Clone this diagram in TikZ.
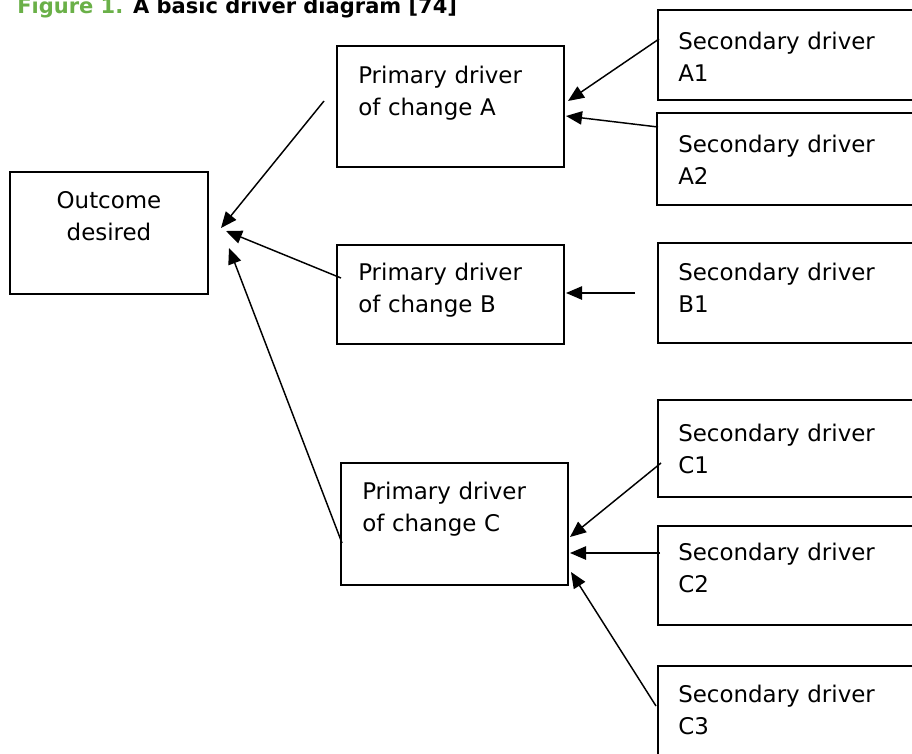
\documentclass[tikz,border=0pt]{standalone}
\usepackage{fontspec}
\setmainfont{DejaVu Sans}
\usetikzlibrary{arrows.meta}
\definecolor{figgreen}{RGB}{106,176,72}
\begin{document}
\begin{tikzpicture}[x=0.75pt,y=-0.75pt,
  box/.style={draw=black, line width=1.5pt, inner sep=0pt, outer sep=0pt, anchor=north west},
  txt/.style={anchor=base west, inner sep=0pt, align=left, text width=200pt, font=\fontsize{17.2pt}{24pt}\selectfont},
  arr/.style={line width=1.1pt, -{Triangle[length=12pt,width=10pt]}}]
\useasboundingbox (0,0) rectangle (912,753);
% title
\node[anchor=base west, inner sep=0pt, font=\fontsize{15.75pt}{18pt}\selectfont\bfseries] (title) at (17,13) {\textcolor{figgreen}{Figure 1.} A basic driver diagram [74]};
% boxes
\node[box, minimum width=148.5pt, minimum height=91.5pt] (out) at (10,172) {};
\node[box, minimum width=170.25pt, minimum height=90.75pt] (pA) at (337,46) {};
\node[box, minimum width=170.25pt, minimum height=74.25pt] (pB) at (337,245) {};
\node[box, minimum width=170.25pt, minimum height=91.5pt] (pC) at (341,463) {};
\node[box, minimum width=195pt, minimum height=67.5pt] (sA1) at (658,10) {};
\node[box, minimum width=195pt, minimum height=69pt] (sA2) at (657,113) {};
\node[box, minimum width=195pt, minimum height=75pt] (sB1) at (658,243) {};
\node[box, minimum width=195pt, minimum height=72.75pt] (sC1) at (658,400) {};
\node[box, minimum width=195pt, minimum height=74.25pt] (sC2) at (658,526) {};
\node[box, minimum width=195pt, minimum height=75pt] (sC3) at (658,666) {};
% texts
\node[anchor=base, inner sep=0pt, align=center, text width=140pt, font=\fontsize{17.2pt}{24pt}\selectfont] (tout) at (109,208) {Outcome\\desired};
\node[txt] (tpA) at (358,83) {Primary driver\\of change A};
\node[txt] (tpB) at (358,280) {Primary driver\\of change B};
\node[txt] (tpC) at (362,499) {Primary driver\\of change C};
\node[txt] (tA1) at (678,49) {Secondary driver\\A1};
\node[txt] (tA2) at (678,152) {Secondary driver\\A2};
\node[txt] (tB1) at (678,280) {Secondary driver\\B1};
\node[txt] (tC1) at (678,441) {Secondary driver\\C1};
\node[txt] (tC2) at (678,560) {Secondary driver\\C2};
\node[txt] (tC3) at (678,702) {Secondary driver\\C3};
% arrow end points
\coordinate (aS) at (324,101);  \coordinate (aE) at (221,228);
\coordinate (bS) at (341,278);  \coordinate (bE) at (226,231);
\coordinate (cS) at (342,543);  \coordinate (cE) at (229,248);
\coordinate (a1S) at (659,39);  \coordinate (a1E) at (568,101);
\coordinate (a2S) at (658,127); \coordinate (a2E) at (566,116);
\coordinate (b1S) at (635,293); \coordinate (b1E) at (566,293);
\coordinate (c1S) at (661,463); \coordinate (c1E) at (570,537);
\coordinate (c2S) at (660,553); \coordinate (c2E) at (570,553);
\coordinate (c3S) at (656,706); \coordinate (c3E) at (571,572);
% arrows
\draw[arr] (aS) -- (aE);
\draw[arr] (bS) -- (bE);
\draw[arr] (cS) -- (cE);
\draw[arr] (a1S) -- (a1E);
\draw[arr] (a2S) -- (a2E);
\draw[arr] (b1S) -- (b1E);
\draw[arr] (c1S) -- (c1E);
\draw[arr] (c2S) -- (c2E);
\draw[arr] (c3S) -- (c3E);
\end{tikzpicture}
\end{document}
